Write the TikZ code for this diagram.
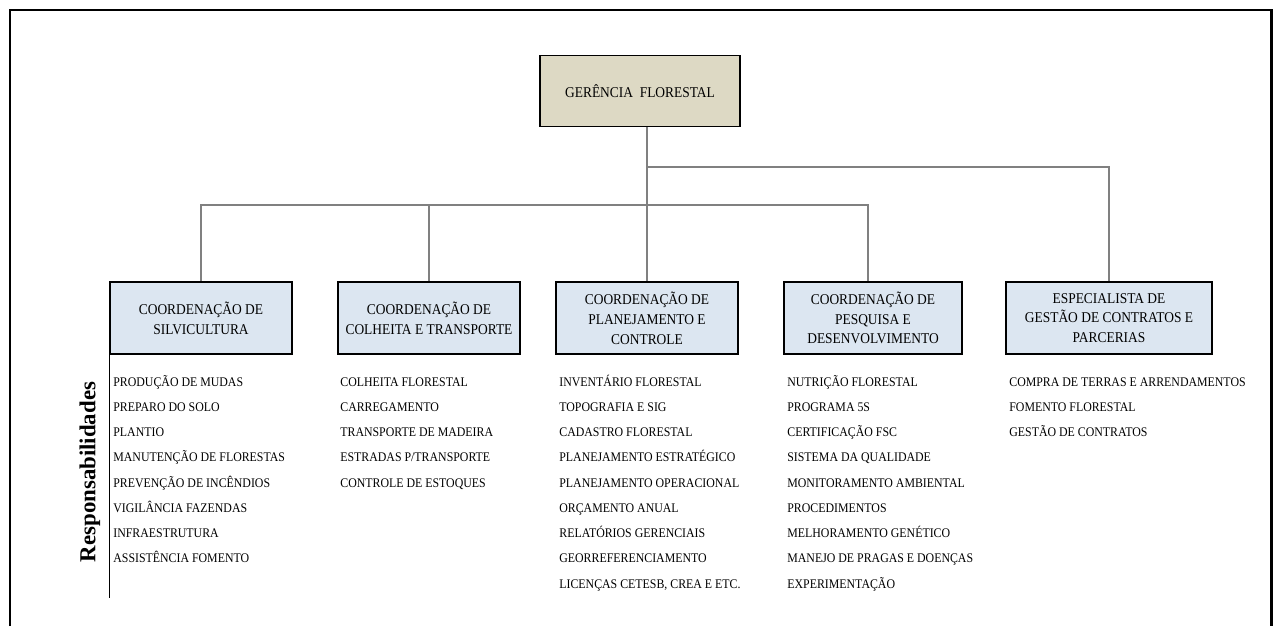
\documentclass[tikz,border=0pt]{standalone}
\usepackage{fontspec}
\setmainfont{Liberation Serif}
\newfontfamily\orgfont[FakeStretch=0.9]{Liberation Serif}
\usetikzlibrary{positioning}
\definecolor{topfill}{HTML}{DDD9C4}
\definecolor{boxfill}{HTML}{DCE6F1}
\definecolor{linkgray}{HTML}{808080}

\begin{document}
\begin{tikzpicture}[x = 0.02cm, y = -0.02cm,
	chief/.style = {draw = black, line width = 0.9pt, fill = topfill, minimum width = 4cm, minimum height = 1.42cm, align = center, font = \orgfont\fontsize{8.5}{11.3}\selectfont},
	coord/.style = {draw = black, line width = 0.9pt, fill = boxfill, minimum width = 3.64cm, minimum height = 1.44cm, inner sep = 1pt, align = center, font = \orgfont\fontsize{8.5}{11.3}\selectfont},
	link/.style = {draw = linkgray, line width = 0.6pt},
	duty/.style = {anchor = base west, inner sep = 0pt, font = \orgfont\fontsize{7.5}{8}\selectfont}]
					\useasboundingbox (0, 0) rectangle (1275, 626);
					\draw [black, line width = 1.7pt] (10, 626) -- (10, 10) -- (1271, 10) -- (1271, 626);
					% boxes
					\node [chief] (chief) at (640, 91) {GERÊNCIA~~FLORESTAL};
					\node [coord] (silv) at (201, 318) {COORDENAÇÃO DE\\SILVICULTURA};
					\node [coord] (colh) at (429, 318) {COORDENAÇÃO DE\\COLHEITA E TRANSPORTE};
					\node [coord] (plan) at (647, 318) {COORDENAÇÃO DE\\PLANEJAMENTO E\\CONTROLE};
					\node [coord, minimum width = 3.56cm] (pesq) at (873, 318) {COORDENAÇÃO DE\\PESQUISA E\\DESENVOLVIMENTO};
					\node [coord, minimum width = 4.12cm] (esp) at (1109, 318) {ESPECIALISTA DE\\GESTÃO DE CONTRATOS E\\PARCERIAS};
					% connectors
					\coordinate (split) at (647, 167);
					\coordinate (bus) at (647, 205);
					\draw [link] (chief.south -| bus) -- (bus);
					\draw [link] (split) -| (esp.north);
					\draw [link] (bus) -| (silv.north);
					\draw [link] (bus) -| (colh.north);
					\draw [link] (bus) -- (plan.north);
					\draw [link] (bus) -| ([xshift = -0.1cm] pesq.north);
					% responsibilities
					\draw [black, line width = 0.8pt] (silv.south west) -- ++(0, 243);
					\node [rotate = 90, font = \bfseries\fontsize{13}{13}\selectfont] (resp) at (90, 472) {Responsabilidades};
					\foreach \t [count = \i] in {PRODUÇÃO DE MUDAS, PREPARO DO SOLO, PLANTIO, MANUTENÇÃO DE FLORESTAS, PREVENÇÃO DE INCÊNDIOS, VIGILÂNCIA FAZENDAS, INFRAESTRUTURA, ASSISTÊNCIA FOMENTO}
						\node [duty] (silv\i) at (113, {386 + 25.25 * (\i - 1)}) {\t};
					\foreach \t [count = \i] in {COLHEITA FLORESTAL, CARREGAMENTO, TRANSPORTE DE MADEIRA, ESTRADAS P/TRANSPORTE, CONTROLE DE ESTOQUES}
						\node [duty] (colh\i) at (340, {386 + 25.25 * (\i - 1)}) {\t};
					\foreach \t [count = \i] in {INVENTÁRIO FLORESTAL, TOPOGRAFIA E SIG, CADASTRO FLORESTAL, PLANEJAMENTO ESTRATÉGICO, PLANEJAMENTO OPERACIONAL, ORÇAMENTO ANUAL, RELATÓRIOS GERENCIAIS, GEORREFERENCIAMENTO, {LICENÇAS CETESB, CREA E ETC.}}
						\node [duty] (plan\i) at (559, {386 + 25.25 * (\i - 1)}) {\t};
					\foreach \t [count = \i] in {NUTRIÇÃO FLORESTAL, PROGRAMA 5S, CERTIFICAÇÃO FSC, SISTEMA DA QUALIDADE, MONITORAMENTO AMBIENTAL, PROCEDIMENTOS, MELHORAMENTO GENÉTICO, MANEJO DE PRAGAS E DOENÇAS, EXPERIMENTAÇÃO}
						\node [duty] (pesq\i) at (787, {386 + 25.25 * (\i - 1)}) {\t};
					\foreach \t [count = \i] in {COMPRA DE TERRAS E ARRENDAMENTOS, FOMENTO FLORESTAL, GESTÃO DE CONTRATOS}
						\node [duty] (esp\i) at (1009, {386 + 25.25 * (\i - 1)}) {\t};
				\end{tikzpicture}
\end{document}
